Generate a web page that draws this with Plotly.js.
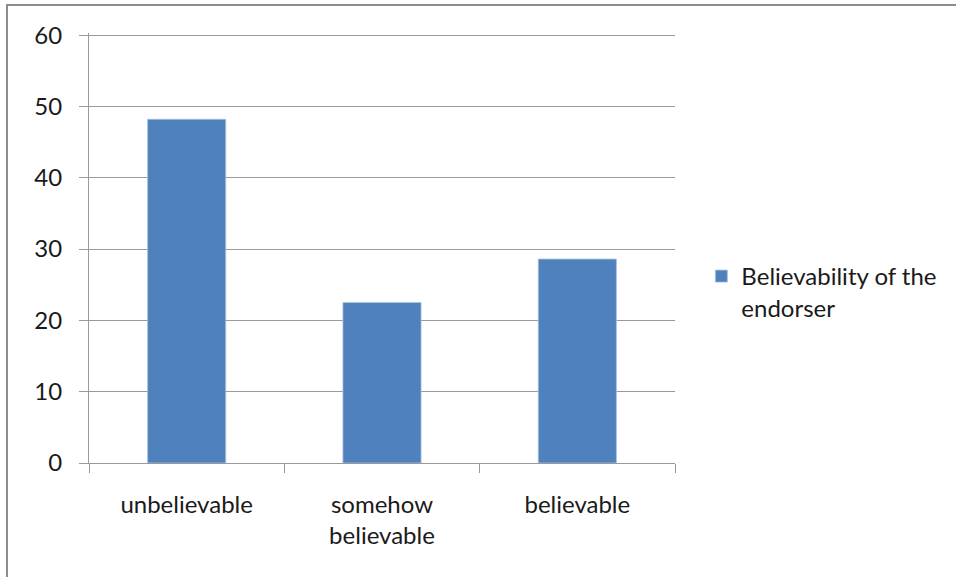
<!DOCTYPE html>
<html>
<head>
<meta charset="utf-8">
<script src="https://cdn.plot.ly/plotly-3.0.1.min.js"></script>
<style>
  html, body { margin: 0; padding: 0; background: #fff; }
  #wrap { position: relative; width: 956px; height: 577px; overflow: hidden; }
  #chart { position: absolute; left: 0; top: 0; width: 956px; height: 577px; }
  #frame { position: absolute; left: 6px; top: 4px; width: 970px; height: 600px;
           border-left: 2px solid #8c8c8c; border-top: 2px solid #8c8c8c; pointer-events: none; }
</style>
</head>
<body>
<div id="wrap">
  <div id="chart"></div>
  <div id="frame"></div>
</div>
<script>
// Survey answers on how believable the endorser was (percent)
const categories = ["unbelievable", "somehow<br>believable", "believable"];
const values = [48.2, 22.5, 28.6];
const seriesName = "Believability of the<br>endorser";
const yTicks = [0, 10, 20, 30, 40, 50, 60];

const FONT = "Lato, 'Open Sans', sans-serif";
const FSIZE = 24;
const GRID = "#9a9a9a";
const TEXT = "#1a1a1a";

const trace = {
  type: "bar",
  x: categories,
  y: values,
  name: seriesName,
  showlegend: true,
  marker: { color: "#4f81bd", line: { color: "#a9c2e0", width: 0.8 } },
  hoverinfo: "x+y"
};

const layout = {
  width: 956,
  height: 577,
  margin: { l: 89, r: 281, t: 33, b: 114, pad: 0 },
  paper_bgcolor: "#ffffff",
  plot_bgcolor: "#ffffff",
  font: { family: FONT, size: FSIZE, color: TEXT },
  bargap: 0.6,
  showlegend: true,
  legend: {
    x: 1.045, xanchor: "left",
    y: 0.486, yanchor: "top",
    valign: "top",
    font: { family: FONT, size: FSIZE, color: TEXT },
    bgcolor: "rgba(0,0,0,0)"
  },
  xaxis: {
    type: "category",
    showline: true, linecolor: GRID, linewidth: 1,
    ticks: "outside", tickson: "boundaries", ticklen: 9, tickcolor: GRID, tickwidth: 1,
    showgrid: false,
    ticklabelstandoff: 20,
    tickfont: { family: FONT, size: FSIZE, color: TEXT }
  },
  yaxis: {
    // a little headroom above 60 so its gridline is kept
    range: [0, 60.3],
    tickvals: yTicks,
    ticktext: yTicks.map(String),
    showline: true, linecolor: GRID, linewidth: 1,
    ticks: "outside", ticklen: 9, tickcolor: GRID, tickwidth: 1,
    showgrid: true, gridcolor: GRID, gridwidth: 1,
    zeroline: false,
    ticklabelstandoff: 12,
    tickfont: { family: FONT, size: FSIZE, color: TEXT }
  }
};

Plotly.newPlot("chart", [trace], layout, { staticPlot: true, displayModeBar: false });
</script>
</body>
</html>
